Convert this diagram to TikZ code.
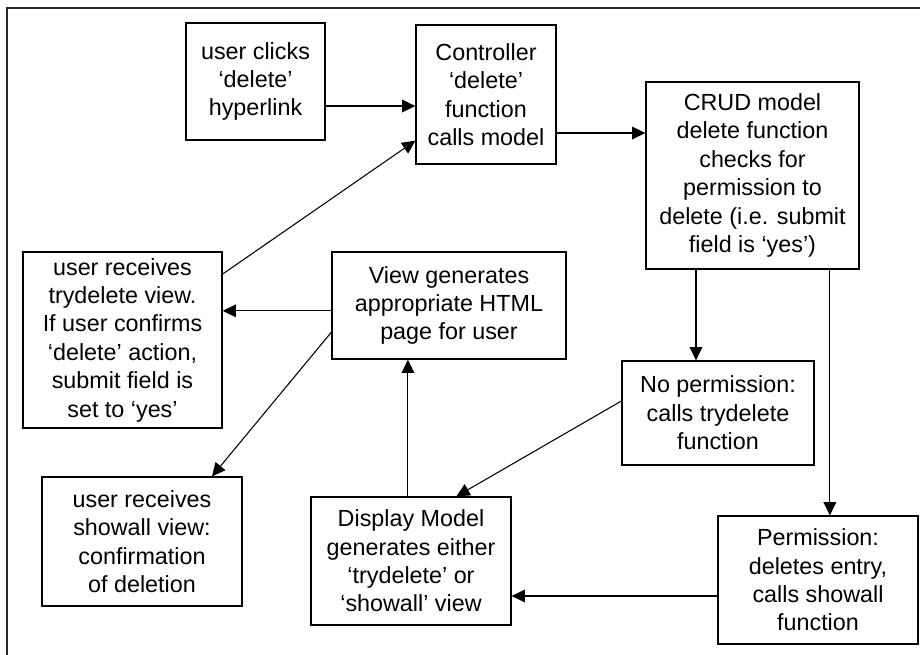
\documentclass[tikz,border=0pt]{standalone}
\usepackage{fontspec}
\setmainfont{Liberation Sans}
\usetikzlibrary{arrows.meta}

\begin{document}
\begin{tikzpicture}[x=0.75pt, y=-0.75pt,
    box/.style={draw, line width=0.9pt, align=center, inner sep=0pt,
        font=\fontsize{17.5pt}{21.3pt}\selectfont},
    arr/.style={-{Triangle[length=10pt, width=9.5pt]}, line width=0.8pt}]
            \useasboundingbox (0,0) rectangle (920,655);
            % Outer frame (top and left only)
            \draw[line width=1.1pt, black!85] (920,8) -- (7,8) -- (7,655);

            % Define the nodes
            \node[box, minimum width=104.3pt, minimum height=87.8pt] (click) at (255.5,81.5)
                {user clicks\\‘delete’\\hyperlink};
            \node[box, minimum width=105pt, minimum height=104.3pt] (ctrl) at (486,94.5)
                {Controller\\‘delete’\\function\\calls model};
            \node[box, minimum width=159.8pt, minimum height=140.3pt] (crud) at (752.5,175.5)
                {CRUD model\\delete function\\checks for\\permission to\\delete (i.e. submit\\field is ‘yes’)};
            \node[box, minimum width=149.3pt, minimum height=132pt] (trydel) at (122.5,340)
                {user receives\\trydelete view.\\If user confirms\\‘delete’ action,\\submit field is\\set to ‘yes’};
            \node[box, minimum width=175.5pt, minimum height=80.3pt] (view) at (449,305.5)
                {View generates\\appropriate HTML\\page for user};
            \node[box, minimum width=144pt, minimum height=78pt] (noperm) at (718,413)
                {No permission:\\calls trydelete\\function};
            \node[box, minimum width=150pt, minimum height=96.8pt] (showall) at (142,541.5)
                {user receives\\showall view:\\confirmation\\of deletion};
            \node[box, minimum width=150pt, minimum height=96pt] (display) at (411,561)
                {Display Model\\generates either\\‘trydelete’ or\\‘showall’ view};
            \node[box, minimum width=150pt, minimum height=96pt] (perm) at (818,580)
                {Permission:\\deletes entry,\\calls showall\\function};

            % Draw the edges
            \draw[arr] ([yshift=-18.4pt]click.east) -- ([yshift=-18.4pt]click.east -| ctrl.west);
            \draw[arr] ([yshift=-28.9pt]ctrl.east) -- ([yshift=-28.9pt]ctrl.east -| crud.west);
            \draw[arr] ([xshift=-42.4pt]crud.south) -- ([xshift=-42.4pt]crud.south |- noperm.north);
            \draw[arr] ([xshift=58pt]crud.south) -- ([xshift=58pt]crud.south |- perm.north);
            \draw[arr] ([yshift=9pt]noperm.west) -- ([xshift=34pt]display.north);
            \draw[arr] ([yshift=-12pt]perm.west) -- ([yshift=-12pt]perm.west -| display.east);
            \draw[arr] ([xshift=-2.3pt]display.north) -- ([xshift=-2.3pt]display.north |- view.south);
            \draw[arr] ([yshift=-4pt]view.west) -- ([yshift=-4pt]view.west -| trydel.east);
            \draw[arr] ([yshift=-20pt]view.west) -- ([xshift=52.5pt]showall.north);
            \draw[arr] ([yshift=-17pt]trydel.north east) -- ([yshift=18pt]ctrl.south west);
            \end{tikzpicture}
\end{document}
